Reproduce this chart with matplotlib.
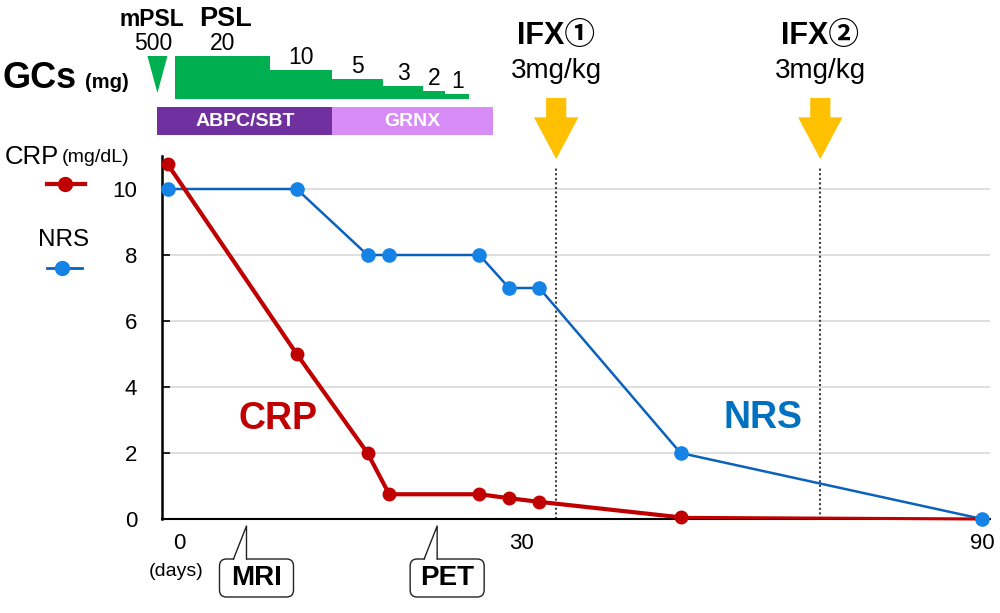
import numpy as np
import matplotlib
matplotlib.use("Agg")
import matplotlib.pyplot as plt
from matplotlib.patches import Polygon, Rectangle, FancyBboxPatch
from matplotlib.lines import Line2D
from matplotlib.transforms import IdentityTransform

plt.rcParams['font.family'] = ['Liberation Sans', 'Noto Sans CJK JP', 'DejaVu Sans']

# ---- data ----
days = [-1, 10.3, 16.5, 18.4, 26.3, 28.9, 32.3, 50.7, 90]
crp = [10.75, 5.0, 2.0, 0.75, 0.75, 0.63, 0.52, 0.05, 0.0]
nrs = [10, 10, 8, 8, 8, 7, 7, 2, 0]

mpsl_day = -1.9
mpsl_dose = 500
psl_change_days = [-0.4, 8.0, 13.4, 17.9, 21.4, 23.3, 25.4]
psl_doses = [20, 10, 5, 3, 2, 1]

abx_names = ["ABPC/SBT", "GRNX"]
abx_start = [-1.9, 13.4]
abx_end = [13.4, 27.5]

ifx_days = [34.5, 68.9]
ifx_labels = ["IFX①", "IFX②"]
ifx_dose = "3mg/kg"

exam_days = [5.9, 22.6]
exam_names = ["MRI", "PET"]

xticks = [0, 30, 90]
yticks = [0, 2, 4, 6, 8, 10]

# ---- styles ----
RED = '#C00000'
BLUE_LINE = '#0A62BD'
BLUE_DOT = '#1583E6'
GREEN = '#00B050'
ABX_COLORS = ['#7030A0', '#D78CF6']
GOLD = '#FFC000'
gc_bar_px = [43, 29, 20, 13, 8, 5]   # drawn step heights (px)
H = 613


# days axis is compressed after day 30
def fwd(d):
    d = np.asarray(d, dtype=float)
    return np.where(d <= 30, d, 30 + (d - 30) * 0.6725)


def inv(u):
    u = np.asarray(u, dtype=float)
    return np.where(u <= 30, u, 30 + (u - 30) / 0.6725)


fig = plt.figure(figsize=(10, 6.13), dpi=100)
ax = fig.add_axes([0.162, 1 - 519 / H, 0.828, (519 - 156) / H])
ax.set_xscale('function', functions=(fwd, inv))
ax.set_xlim(-1.5, 91)
ax.set_ylim(0, 11)

ax.set_yticks(yticks)
ax.set_xticks(xticks)
ax.set_xticklabels([str(t) for t in xticks])
ax.tick_params(axis='y', direction='in', length=6, width=1.2, pad=18, labelsize=16)
ax.tick_params(axis='x', length=0, pad=10, labelsize=16)
ax.yaxis.grid(True, color='#D9D9D9', lw=1.2)
ax.set_axisbelow(True)
for s in ['top', 'right']:
    ax.spines[s].set_visible(False)
ax.spines['left'].set_linewidth(1.8)
ax.spines['bottom'].set_linewidth(1.5)

ax.vlines(ifx_days, 0, 10.64, colors='#404040', linestyles=(0, (1, 1.2)), lw=1.5, zorder=2)

ax.plot(days, nrs, color=BLUE_LINE, lw=1.8, zorder=3, clip_on=False)
ax.plot(days[:-1], crp[:-1], color=RED, lw=3, marker='o', ms=9, zorder=4, clip_on=False)
ax.plot(days[-2:], crp[-2:], color=RED, lw=2.2, zorder=4, clip_on=False)
ax.plot(days, nrs, ls='none', marker='o', ms=9.5, color=BLUE_DOT, zorder=5, clip_on=False)

ax.text(8.7, 3.03, 'CRP', color=RED, fontsize=27, fontweight='bold', ha='center', va='center')
ax.text(61.4, 3.06, 'NRS', color='#0070C0', fontsize=27, fontweight='bold', ha='center', va='center')
ax.text(-0.3, -0.146, '(days)', transform=ax.get_xaxis_transform(), fontsize=14,
        ha='center', va='center')

# ---- top panel: steroids, antibiotics, IFX ----
ax_top = fig.add_axes([0.162, 1 - 156 / H, 0.828, 156 / H], sharex=ax)
ax_top.set_ylim(156, 0)   # y = pixels from the top of the image
ax_top.axis('off')

base = 99
tops = [base - h for h in gc_bar_px]
ax_top.fill_between(psl_change_days, base, tops + [tops[-1]], step='post',
                    color=GREEN, lw=0, clip_on=False)
for i, dose in enumerate(psl_doses):
    mid = (psl_change_days[i] + psl_change_days[i + 1]) / 2
    ax_top.text(mid, tops[i] - 1, str(dose), fontsize=16.5, ha='center', va='bottom')
ax_top.add_patch(Polygon([(mpsl_day - 0.875, 56), (mpsl_day + 0.875, 56), (mpsl_day, 93)],
                         closed=True, color=GREEN, lw=0, clip_on=False))
ax_top.text(mpsl_day - 0.4, 43, str(mpsl_dose), fontsize=16.5, ha='center', va='center')
ax_top.text(mpsl_day - 0.5, 19, 'mPSL', fontsize=16.5, fontweight='bold', ha='center', va='center')
mid20 = (psl_change_days[0] + psl_change_days[1]) / 2
ax_top.text(mid20 + 0.3, 19, 'PSL', fontsize=19.5, fontweight='bold', ha='center', va='center')

for name, s, e, c in zip(abx_names, abx_start, abx_end, ABX_COLORS):
    ax_top.add_patch(Rectangle((s, 107), e - s, 28, color=c, lw=0, clip_on=False))
    ax_top.text((s + e) / 2, 121.5, name, color='white', fontsize=14, fontweight='bold',
                ha='center', va='center')

for d, lab in zip(ifx_days, ifx_labels):
    ax_top.text(d, 36, lab, fontsize=22, fontweight='bold', ha='center', va='center')
    ax_top.text(d, 71, ifx_dose, fontsize=20, ha='center', va='center')
    ax_top.annotate('', xy=(d, 159), xytext=(d, 98), annotation_clip=False,
                    arrowprops=dict(arrowstyle='simple,head_length=3.0,head_width=3.2,tail_width=1.45',
                                    fc=GOLD, ec='none', shrinkA=0, shrinkB=0,
                                    mutation_scale=10))

# ---- left labels ----
ident = IdentityTransform()
fig.text(3, H - 88, 'GCs', fontsize=26, fontweight='bold', ha='left', va='baseline',
         transform=ident)
fig.text(85, H - 88, '(mg)', fontsize=14.5, fontweight='bold', ha='left', va='baseline',
         transform=ident)

fig.text(5, H - 157, 'CRP', fontsize=18.5, ha='left', va='center', transform=ident)
fig.text(62, H - 157, '(mg/dL)', fontsize=14, ha='left', va='center', transform=ident)
fig.add_artist(Line2D([47, 85], [H - 184] * 2, color=RED, lw=3, transform=ident))
fig.add_artist(Line2D([65], [H - 184], marker='o', ms=10, color=RED, transform=ident))
fig.text(64, H - 240, 'NRS', fontsize=17.5, ha='center', va='center', transform=ident)
fig.add_artist(Line2D([47, 82], [H - 268] * 2, color=BLUE_LINE, lw=2, transform=ident))
fig.add_artist(Line2D([62], [H - 268], marker='o', ms=10, color=BLUE_DOT, transform=ident))

# ---- MRI / PET callouts below the axis ----
for d, name in zip(exam_days, exam_names):
    tip = ax.transData.transform((d, 0))[0]
    left, right = tip - 27, tip + 47
    box_bottom, box_top, tip_y = H - 597, H - 559, H - 526
    fig.add_artist(FancyBboxPatch((left, box_bottom), right - left, box_top - box_bottom,
                                  boxstyle='round,pad=0,rounding_size=7',
                                  fc='white', ec='#222222', lw=1.0, transform=ident))
    fig.add_artist(Polygon([(tip - 12.5, box_top - 1), (tip - 0.4, tip_y - 1),
                            (tip - 0.4, box_top - 1)], closed=True, fc='white', lw=0,
                           transform=ident))
    fig.add_artist(Line2D([tip - 13, tip, tip], [box_top, tip_y, box_top],
                          color='#222222', lw=1.0, transform=ident))
    fig.text((left + right) / 2, H - 578, name, fontsize=20, fontweight='bold',
             ha='center', va='center', transform=ident)

fig.savefig('out.png', dpi=100)
